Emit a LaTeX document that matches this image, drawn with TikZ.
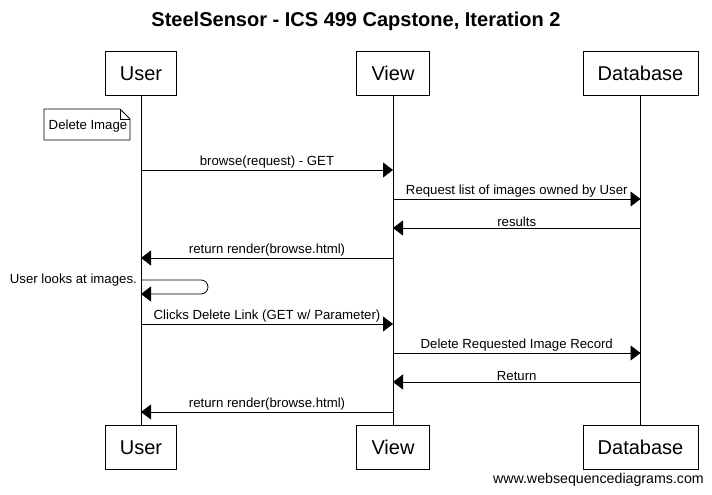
\documentclass[tikz,border=0pt]{standalone}
\usepackage{fontspec}
\setmainfont{Liberation Sans}
\usetikzlibrary{arrows.meta,shapes.misc}
\tikzset{
  actor/.style={draw,line width=0.8pt,minimum height=44pt,inner sep=0pt,font=\fontsize{20}{22}\selectfont},
  life/.style={line width=0.8pt},
  msg/.style={line width=0.8pt,-{Triangle[length=10pt,width=15pt]}},
  lbl/.style={font=\fontsize{13.2}{15}\selectfont,inner sep=0pt,anchor=base},
}
\begin{document}
\begin{tikzpicture}[x=1pt,y=-1pt]
\useasboundingbox[fill=white] (0,0) rectangle (712,495);
\node[font=\bfseries\fontsize{20}{23}\selectfont] (title) at (356,21) {SteelSensor - ICS 499 Capstone, Iteration 2};
% actors
\node[actor,minimum width=71pt] (ut) at (141,73.5) {User};
\node[actor,minimum width=73pt] (vt) at (393,73.5) {View};
\node[actor,minimum width=115pt] (dt) at (640.5,73.5) {Database};
\node[actor,minimum width=71pt] (ub) at (141,447.5) {User};
\node[actor,minimum width=73pt] (vb) at (393,447.5) {View};
\node[actor,minimum width=115pt] (db) at (640.5,447.5) {Database};
\draw[life] (ut.south) -- (ub.north);
\draw[life] (vt.south) -- (vb.north);
\draw[life] (dt.south) -- (db.north);
% note
\draw[line width=0.8pt] (44,109) -- (120,109) -- (130,119) -- (130,140) -- (44,140) -- cycle;
\draw[line width=0.8pt] (120,109) -- (120,119) -- (130,119);
\node[lbl] (note) at (88,129) {Delete Image};
% message coordinates
\foreach \n/\y in {1/170,2/199,3/228,4/258,5/280,6/294,7/324,8/353,9/382,10/412}{
  \coordinate (u\n) at (141,\y);
  \coordinate (v\n) at (393,\y);
  \coordinate (d\n) at (640.5,\y);
}
\tikzset{ml/.style={lbl,above=1pt}}
\draw[msg] (u1) -- node[ml] {browse(request) - GET} (v1);
\draw[msg] (v2) -- node[ml] {Request list of images owned by User} (d2);
\draw[msg] (d3) -- node[ml] {results} (v3);
\draw[msg] (v4) -- node[ml] {return render(browse.html)} (u4);
\draw[msg,rounded corners=7pt] (u5) -- (208,280) -- (208,294) -- (u6);
\node[lbl,anchor=east] (selflbl) at (137,280) {User looks at images.};
\draw[msg] (u7) -- node[ml] {Clicks Delete Link (GET w/ Parameter)} (v7);
\draw[msg] (v8) -- node[ml] {Delete Requested Image Record} (d8);
\draw[msg] (d9) -- node[ml] {Return} (v9);
\draw[msg] (v10) -- node[ml] {return render(browse.html)} (u10);
\node[font=\fontsize{14.2}{16}\selectfont,anchor=east,inner sep=0pt] (footer) at (704,480) {www.websequencediagrams.com};
\end{tikzpicture}
\end{document}
